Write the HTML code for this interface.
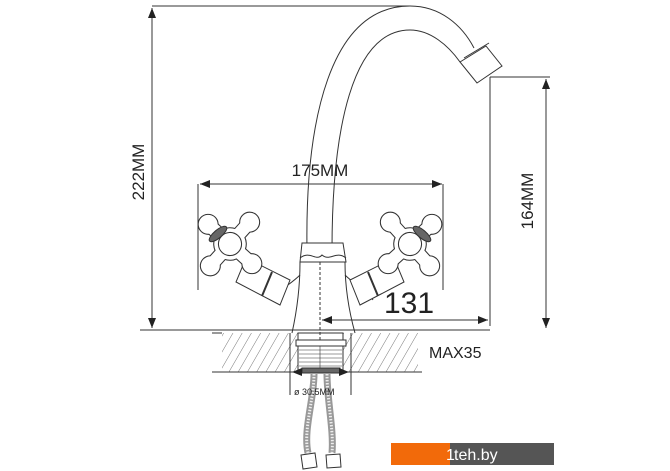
<!DOCTYPE html>
<html><head><meta charset="utf-8"><style>
html,body{margin:0;padding:0;background:#fff;}
svg{display:block;font-family:"Liberation Sans",sans-serif;}
</style></head><body>
<svg width="670" height="471" viewBox="0 0 670 471" xmlns="http://www.w3.org/2000/svg">
<defs>
<marker id="a" viewBox="0 0 10 10" refX="10" refY="5" markerWidth="10" markerHeight="10" orient="auto-start-reverse" markerUnits="userSpaceOnUse"><path d="M0,1 L10,5 L0,9 z" fill="#222"/></marker>
<pattern id="h" width="8" height="8" patternUnits="userSpaceOnUse" patternTransform="rotate(30)"><line x1="0" y1="0" x2="0" y2="8" stroke="#555" stroke-width="0.8"/></pattern>
<g id="cross">
<g stroke="#333" stroke-width="2" fill="#333">
<rect x="-6" y="-28" width="12" height="56"/><rect x="-28" y="-6" width="56" height="12"/>
<circle cx="0" cy="-28" r="9"/><circle cx="0" cy="28" r="9"/><circle cx="-28" cy="0" r="9"/><circle cx="28" cy="0" r="9"/>
<circle cx="0" cy="0" r="15"/>
</g>
<g fill="#fff">
<rect x="-6" y="-28" width="12" height="56"/><rect x="-28" y="-6" width="56" height="12"/>
<circle cx="0" cy="-28" r="9"/><circle cx="0" cy="28" r="9"/><circle cx="-28" cy="0" r="9"/><circle cx="28" cy="0" r="9"/>
<circle cx="0" cy="0" r="15"/>
</g>
<circle cx="0" cy="0" r="11" fill="none" stroke="#333"/>
</g>
</defs>
<g stroke="#333" stroke-width="1" fill="none">
<line x1="152" y1="6" x2="410" y2="6"/>
<line x1="152" y1="8" x2="152" y2="328" marker-start="url(#a)" marker-end="url(#a)"/>
<line x1="140" y1="330" x2="490" y2="330"/>
<line x1="490" y1="77" x2="550" y2="77"/>
<line x1="490" y1="77" x2="490" y2="326"/>
<line x1="546" y1="79" x2="546" y2="328" marker-start="url(#a)" marker-end="url(#a)"/>
<line x1="200" y1="184" x2="442" y2="184" marker-start="url(#a)" marker-end="url(#a)"/>
<line x1="198" y1="184" x2="198" y2="290"/>
<line x1="443" y1="184" x2="443" y2="290"/>
<line x1="322" y1="320" x2="488" y2="320" marker-start="url(#a)" marker-end="url(#a)"/>
<rect x="222" y="333" width="196" height="39" fill="url(#h)" stroke="none"/>
<line x1="212" y1="372" x2="422" y2="372"/>
<line x1="212" y1="333" x2="222" y2="333"/>
<rect x="298" y="333" width="45" height="40" fill="#fff"/>
<rect x="296" y="340" width="50" height="6" fill="#fff"/>
<g stroke-width="0.6"><line x1="299" y1="350" x2="342" y2="350"/><line x1="299" y1="354" x2="342" y2="354"/><line x1="299" y1="358" x2="342" y2="358"/><line x1="299" y1="362" x2="342" y2="362"/><line x1="299" y1="366" x2="342" y2="366"/><line x1="320" y1="346" x2="320" y2="373"/></g>
<rect x="302" y="368" width="38" height="5" fill="#666"/>
<line x1="290" y1="333" x2="290" y2="395"/><line x1="351" y1="333" x2="351" y2="395"/>
<line x1="292" y1="372" x2="300" y2="372" marker-start="url(#a)"/>
<line x1="340" y1="372" x2="349" y2="372" marker-end="url(#a)"/>
<path d="M314,374 C314,400 303,430 308,453" stroke="#999" stroke-width="7"/>
<path d="M327,374 C327,400 334,430 332,453" stroke="#999" stroke-width="7"/>
<path d="M314,374 C314,400 303,430 308,453" stroke="#eee" stroke-width="3" stroke-dasharray="1.5,1.5"/>
<path d="M327,374 C327,400 334,430 332,453" stroke="#eee" stroke-width="3" stroke-dasharray="1.5,1.5"/>
<path d="M301,455 l14,-2 l2,14 l-14,2 z M326,455 l14,-1 l1,13 l-14,1 z" fill="#fff"/>
<path d="M307,250 C305,120 330,6 410,6 C440,6 462,25 474,48"/>
<path d="M332,250 C332,130 352,30 410,30 C430,30 448,45 460,62"/>
<path d="M460,62 L486,46 L502,66 L477,83 Z" fill="#fff"/>
<line x1="464" y1="58" x2="489" y2="43"/>
<path d="M300,262 C300,290 296,315 292,333 M345,262 C345,290 350,315 355,333"/>
<path d="M300,275 C290,285 278,290 272,300 M345,275 C355,285 367,290 373,300"/>
<path d="M302,243 L343,243 L346,262 L300,262 Z" fill="#fff"/>
<path d="M300,258 C310,250 316,262 322,255 C330,262 336,250 346,258"/>
<line x1="320" y1="262" x2="320" y2="340" stroke-dasharray="3,2"/>
</g>
<g id="L">
<g stroke="#333" stroke-width="1" fill="#fff">
<path d="M246,258 L290,280 L280,305 L236,282 Z"/>
<line x1="272" y1="272" x2="262" y2="296" stroke-width="2"/>
</g>
<use href="#cross" transform="translate(230,244) rotate(42) scale(1.05)"/>
<ellipse cx="218" cy="234" rx="4" ry="11" transform="rotate(50 218 234)" fill="#666" stroke="#333"/>
</g>
<use href="#L" transform="translate(640,0) scale(-1,1)"/>
<g fill="#222" font-size="17">
<text x="320" y="176" text-anchor="middle">175MM</text>
<text transform="translate(144,172) rotate(-90)" text-anchor="middle">222MM</text>
<text transform="translate(533,201) rotate(-90)" text-anchor="middle">164MM</text>
<text x="384" y="313" font-size="30">131</text>
<text x="429" y="358" font-size="16">MAX35</text>
<text x="294" y="395" font-size="9">ø 30.5MM</text>
</g>
<rect x="391" y="443" width="59" height="22" fill="#f26a0a"/>
<rect x="450" y="443" width="104" height="22" fill="#555"/>
<text x="446" y="460" fill="#fff" font-size="16">1</text>
<text x="454" y="460" fill="#fff" font-size="16">teh.by</text>
</svg>
</body></html>
